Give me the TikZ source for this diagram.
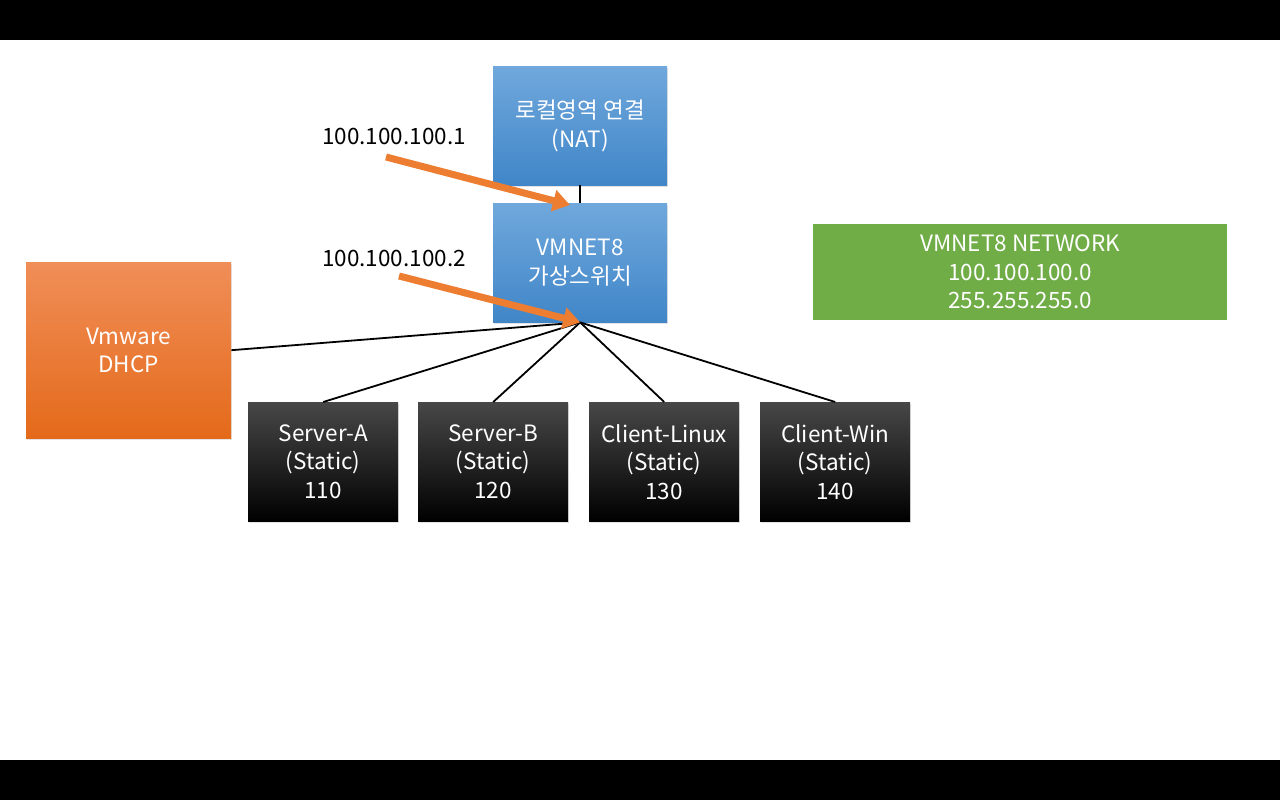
\documentclass[tikz,border=0pt]{standalone}
\usepackage{fontspec}
\setmainfont{Noto Sans CJK KR}
\usetikzlibrary{arrows.meta,shadows}
\definecolor{bluetop}{RGB}{112,168,220}
\definecolor{bluebot}{RGB}{64,134,200}
\definecolor{orgtop}{RGB}{240,142,88}
\definecolor{orgbot}{RGB}{228,106,26}
\definecolor{netgreen}{RGB}{112,173,71}
\definecolor{arrorange}{RGB}{237,125,49}
\tikzset{
    box/.style={anchor=north west, inner sep=0pt, align=center, text=white,
                font=\fontsize{22.5}{28.5}\selectfont,
                drop shadow={shadow xshift=1pt, shadow yshift=-1.5pt, opacity=0.22}},
    bluebox/.style={box, top color=bluetop, bottom color=bluebot,
                minimum width=174, minimum height=119},
    hostbox/.style={box, top color=black!72, middle color=black, bottom color=black,
                minimum width=150, minimum height=119},
    link/.style={line width=1.8pt},
    ipnote/.style={font=\fontsize{22.5}{28.5}\selectfont},
    hint/.style={arrorange, line width=7pt, -{Triangle[length=17pt,width=21pt]}},
}
\begin{document}
\begin{tikzpicture}[x=1pt,y=-1pt]
    % frame with black bars
    \useasboundingbox (0,0) rectangle (1280,800);
    \fill[black] (0,0) rectangle (1280,40);
    \fill[black] (0,760) rectangle (1280,800);

    \node[bluebox] (nat) at (493,66) {로컬영역 연결\\(NAT)};
    \node[bluebox] (sw) at (493,203) {VMNET8\\가상스위치};
    \node[box, top color=orgtop, bottom color=orgbot,
          minimum width=205, minimum height=176] (dhcp) at (26,262) {Vmware\\DHCP};

    \node[hostbox] (srva) at (248,402) {Server-A\\(Static)\\110};
    \node[hostbox] (srvb) at (418,402) {Server-B\\(Static)\\120};
    \node[hostbox] (cli) at (589,402) {Client-Linux\\(Static)\\130};
    \node[hostbox] (cwin) at (760,402) {Client-Win\\(Static)\\140};

    \node[anchor=north west, fill=netgreen, text=white, align=center, inner sep=0pt,
          minimum width=414, minimum height=96, font=\fontsize{22.5}{28.5}\selectfont]
          (net) at (813,224) {VMNET8 NETWORK\\100.100.100.0\\255.255.255.0};

    % links
    \draw[link] (nat.south) -- (sw.north);
    \draw[link] (sw.south) -- (dhcp.east);
    \draw[link] (sw.south) -- (srva.north);
    \draw[link] (sw.south) -- (srvb.north);
    \draw[link] (sw.south) -- (cli.north);
    \draw[link] (sw.south) -- (cwin.north);

    % ip labels
    \node[ipnote] (ip1) at (394,136) {100.100.100.1};
    \node[ipnote] (ip2) at (394,258) {100.100.100.2};
    \coordinate (t1) at (386,157);
    \coordinate (h1) at (570,205);
    \coordinate (t2) at (399,276);
    \draw[hint] (t1) -- (h1);
    \draw[hint] (t2) -- (sw.south);
\end{tikzpicture}
\end{document}
